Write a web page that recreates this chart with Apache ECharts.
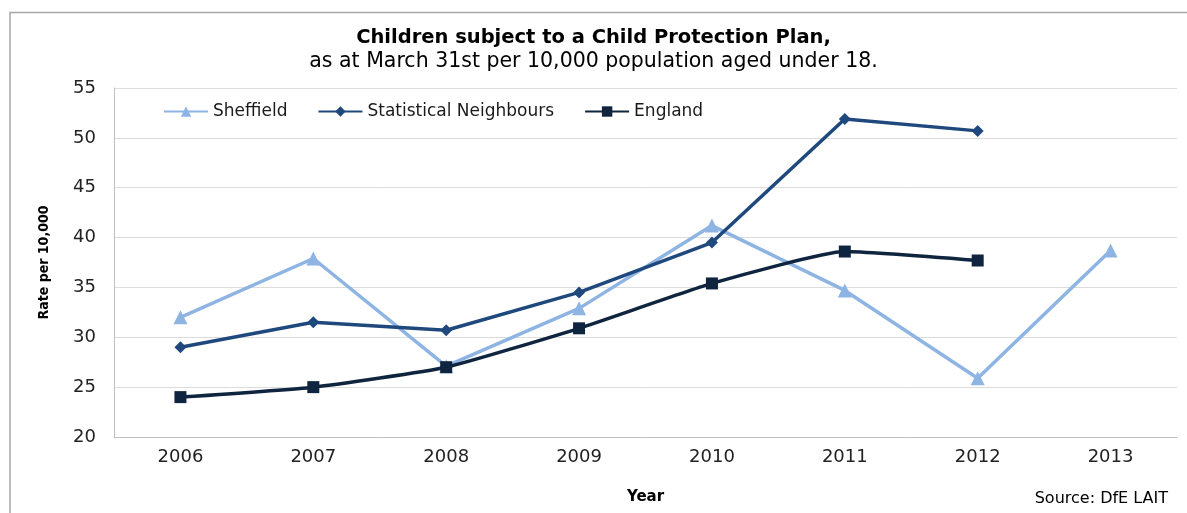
<!DOCTYPE html>
<html><head><meta charset="utf-8">
<script src="https://cdn.jsdelivr.net/npm/echarts@6/dist/echarts.min.js"></script>
<style>html,body{margin:0;padding:0;background:#fff}#c{width:1187px;height:513px}</style>
</head><body><div id="c"></div>
<script>
const years = ['2006','2007','2008','2009','2010','2011','2012','2013'];
const sheffield = [32.0, 37.9, 27.1, 32.9, 41.2, 34.7, 25.9, 38.7];
const statNeighbours = [29.0, 31.5, 30.7, 34.5, 39.5, 51.9, 50.7, null];
const england = [24.0, 25.0, 27.0, 30.9, 35.4, 38.6, 37.7, null];

const chart = echarts.init(document.getElementById('c'));
const font = 'DejaVu Sans';
chart.setOption({
  animation: false,
  backgroundColor: '#fff',
  graphic: [
    {type:'polyline', shape:{points:[[10,513],[10,12.5],[1187,12.5]]}, style:{stroke:'#a6a6a6', lineWidth:1.5, fill:null}, silent:true},
    {type:'text', left: 'center', top: 28, style:{text:'Children subject to a Child Protection Plan,', font:'bold 19.5px "DejaVu Sans"', fill:'#000'}},
    {type:'text', left: 'center', top: 51, style:{text:'as at March 31st per 10,000 population aged under 18.', font:'20.5px "DejaVu Sans"', fill:'#000'}},
    {type:'text', right: 19, top: 491, style:{text:'Source: DfE LAIT', font:'16px "DejaVu Sans"', fill:'#000'}}
  ],
  grid: {left:114, right:10, top:88, bottom:76, containLabel:false},
  legend: {
    left: 158, top: 98, itemWidth: 44, itemHeight: 13, itemGap: 30,
    textStyle: {fontFamily: font, fontSize: 17, color:'#1a1a1a'},
    data: ['Sheffield','Statistical Neighbours','England']
  },
  xAxis: {
    type:'category', data: years, boundaryGap: true,
    name: 'Year', nameLocation:'middle', nameGap: 53,
    nameTextStyle: {fontFamily:'DejaVu Sans', fontWeight:'bold', fontSize:15, color:'#000'},
    axisLine: {lineStyle:{color:'#bfbfbf'}},
    axisTick: {show:false},
    axisLabel: {fontFamily: font, fontSize: 18, color:'#222', margin: 11}
  },
  yAxis: {
    type:'value', min:20, max:55, interval:5,
    name: 'Rate per 10,000', nameLocation:'middle', nameGap: 63, nameRotate: 90,
    nameTextStyle: {fontFamily:'DejaVu Sans Condensed', fontWeight:'bold', fontSize:14, color:'#000'},
    axisLine: {show:true, lineStyle:{color:'#bfbfbf'}},
    axisTick: {show:false},
    axisLabel: {fontFamily: font, fontSize: 18, color:'#222', margin: 18},
    splitLine: {lineStyle:{color:'#dcdcdc', width:1}}
  },
  series: [
    {name:'Sheffield', type:'line', data: sheffield, symbol:'triangle', symbolSize:14,
     lineStyle:{color:'#8eb4e3', width:3.5}, itemStyle:{color:'#8eb4e3'}},
    {name:'Statistical Neighbours', type:'line', data: statNeighbours, symbol:'diamond', symbolSize:12,
     lineStyle:{color:'#1f497d', width:3.5}, itemStyle:{color:'#1f497d'}},
    {name:'England', type:'line', data: england, symbol:'rect', symbolSize:12, smooth:0.15,
     lineStyle:{color:'#0f243e', width:3.5}, itemStyle:{color:'#0f243e'}}
  ]
});
</script></body></html>
